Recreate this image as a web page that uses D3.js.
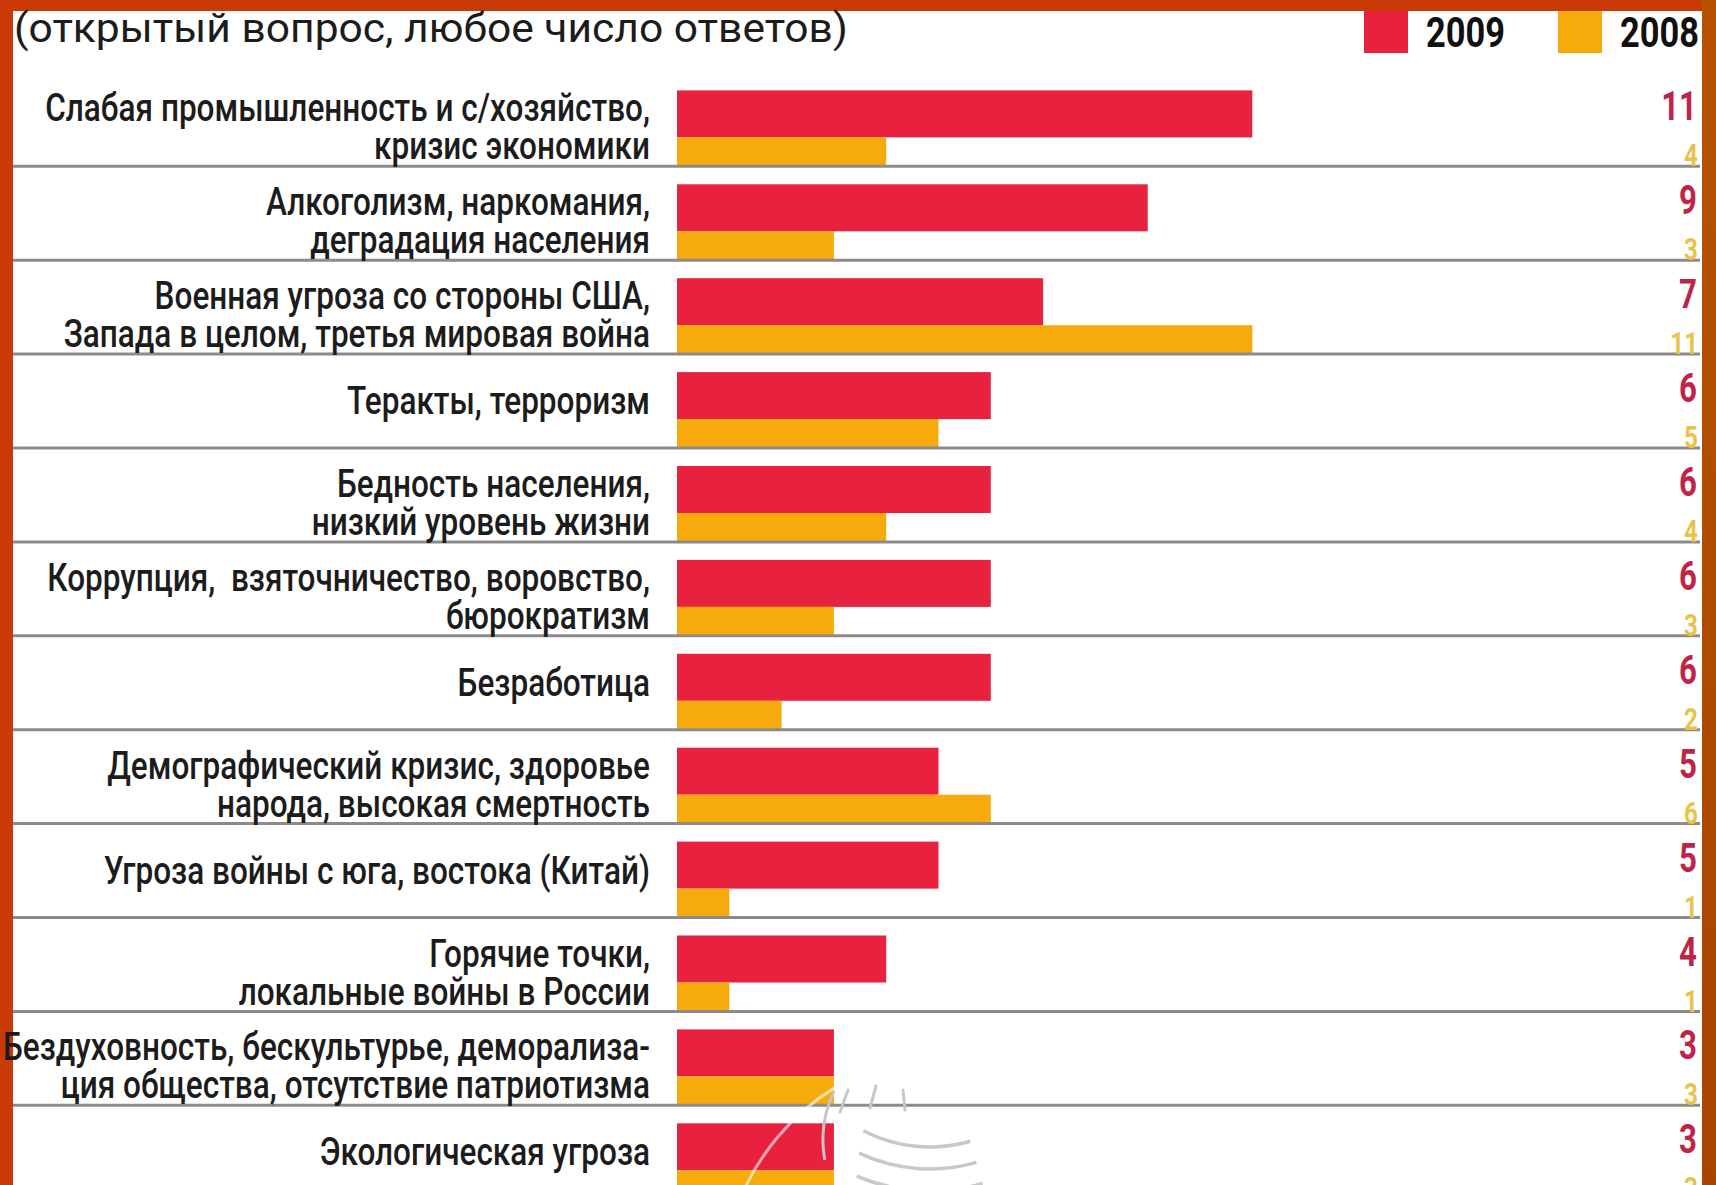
<!DOCTYPE html>
<html><head><meta charset="utf-8">
<script src="https://cdn.jsdelivr.net/npm/d3@7"></script>
<style>
html,body{margin:0;padding:0;background:#c93a06;overflow:hidden;}
svg{display:block;}
</style></head>
<body>
<svg id="chart" width="1716" height="1185"></svg>
<script>
// ---- data ----
const title = "(открытый вопрос, любое число ответов)";
const seriesNames = ["2009", "2008"];
const categories = [
  "Слабая промышленность и с/хозяйство,|кризис экономики",
  "Алкоголизм, наркомания,|деградация населения",
  "Военная угроза со стороны США,|Запада в целом, третья мировая война",
  "Теракты, терроризм",
  "Бедность населения,|низкий уровень жизни",
  "Коррупция,  взяточничество, воровство,|бюрократизм",
  "Безработица",
  "Демографический кризис, здоровье|народа, высокая смертность",
  "Угроза войны с юга, востока (Китай)",
  "Горячие точки,|локальные войны в России",
  "Бездуховность, бескультурье, деморализа-|ция общества, отсутствие патриотизма",
  "Экологическая угроза"
];
const values2009 = [11, 9, 7, 6, 6, 6, 6, 5, 5, 4, 3, 3];
const values2008 = [4, 3, 11, 5, 4, 3, 2, 6, 1, 1, 3, 3];

// ---- layout / style ----
const W = 1716, H = 1185;
const colors = {"2009": "#e8213f", "2008": "#f7aa0c"};
const svg = d3.select("#chart");
const labelFont = "Roboto, 'Noto Sans', sans-serif";
const titleFont = "Roboto, 'Noto Sans', sans-serif";

// width calibration for a condensed look
function measure(str, font, size, weight) {
  const t = svg.append("text").attr("font-family", font).attr("font-size", size)
    .attr("font-weight", weight || "normal").style("white-space","pre").text(str);
  const w = t.node().getComputedTextLength();
  t.remove();
  return w;
}
const labelSize = 38;
const labelWeight = 500;
const labelScale = 605 / measure(categories[0].split("|")[0], labelFont, labelSize, labelWeight);
const titleSize = 40;
const titleScale = 834 / measure(title, titleFont, titleSize);
const numScale = 0.78;

// frame
svg.append("rect").attr("x",0).attr("y",0).attr("width",W).attr("height",H).attr("fill","#c93a06");
const grad = svg.append("defs").append("linearGradient").attr("id","rg").attr("x1",0).attr("y1",0).attr("x2",0).attr("y2",1);
grad.append("stop").attr("offset","0%").attr("stop-color","#b85200");
grad.append("stop").attr("offset","100%").attr("stop-color","#a84600");
svg.append("rect").attr("x",1702).attr("y",0).attr("width",14).attr("height",H).attr("fill","url(#rg)");
svg.append("rect").attr("x",13).attr("y",11).attr("width",1689).attr("height",H-11).attr("fill","#ffffff");

const y = d3.scaleBand().domain(categories).range([72.4, 72.4 + 12*93.9]).paddingInner(0).paddingOuter(0);
const x = d3.scaleLinear().domain([0, 11]).range([677, 677 + 11*52.3]);

const rows = svg.append("g").selectAll("g").data(categories).join("g");

// bars
rows.append("rect")
  .attr("x", x(0)).attr("y", d => y(d) + 18)
  .attr("width", (d,i) => x(values2009[i]) - x(0)).attr("height", 47)
  .attr("fill", colors["2009"]);
rows.append("rect")
  .attr("x", x(0)).attr("y", d => y(d) + 65)
  .attr("width", (d,i) => x(values2008[i]) - x(0)).attr("height", 28.5)
  .attr("fill", colors["2008"]);

// separators
rows.filter((d,i) => i < categories.length - 1).append("line")
  .attr("x1", 13).attr("x2", 1700)
  .attr("y1", d => y(d) + y.step()).attr("y2", d => y(d) + y.step())
  .attr("stroke", "#8e8a8a").attr("stroke-width", 3);

// watermark (faint logo arcs)
const wm = svg.append("g").attr("fill","none").attr("stroke-linecap","round");
wm.append("path").attr("d", d3.arc()({innerRadius:238, outerRadius:238, startAngle:-1.2, endAngle:-0.55}))
  .attr("transform","translate(960,1290)").attr("stroke","rgba(255,255,255,0.6)").attr("stroke-width",3);
wm.append("path").attr("d", d3.arc()({innerRadius:112, outerRadius:112, startAngle:-1.75, endAngle:-1.12}))
  .attr("transform","translate(935,1140)").attr("stroke","#c4c4c4").attr("stroke-width",3);
[145, 167, 189].forEach((r,k) => {
  wm.append("path").attr("d", d3.arc()({innerRadius:r, outerRadius:r, startAngle:2.86, endAngle:3.62 - k*0.04}))
    .attr("transform","translate(930,1002)").attr("stroke","#c8c8c8").attr("stroke-width",3.5);
});
[[848,1090,840,1112],[876,1086,870,1108],[903,1090,905,1110]].forEach(s => {
  wm.append("line").attr("x1",s[0]).attr("y1",s[1]).attr("x2",s[2]).attr("y2",s[3])
    .attr("stroke","#c8c8c8").attr("stroke-width",3);
});

// labels
rows.each(function(d){
  const lines = d.split("|");
  const g = d3.select(this);
  const base = lines.length === 2 ? [49, 87] : [60];
  lines.forEach((ln, k) => {
    g.append("text").attr("text-anchor","end")
      .attr("transform", `translate(650,${y(d) + base[k]}) scale(${labelScale},1)`)
      .attr("font-family", labelFont).attr("font-size", labelSize).attr("font-weight", labelWeight)
      .attr("fill","#1c1c1c").style("white-space","pre").text(ln);
  });
});

// values
rows.append("text").attr("text-anchor","end")
  .attr("transform", d => `translate(1697,${y(d) + 48}) scale(${numScale},1)`)
  .attr("font-family", labelFont).attr("font-weight","bold").attr("font-size", 40)
  .attr("fill", "#bf2448").text((d,i) => values2009[i]);
rows.append("text").attr("text-anchor","end")
  .attr("transform", d => `translate(1698,${y(d) + 94}) scale(${numScale},1)`)
  .attr("font-family", labelFont).attr("font-weight","bold").attr("font-size", 31)
  .attr("fill", "#e9c24a").text((d,i) => values2008[i]);

// title
svg.append("text")
  .attr("transform", `translate(14,42) scale(${titleScale},1)`)
  .attr("font-family", titleFont).attr("font-size", titleSize).attr("fill","#1c1c1c")
  .text(title);

// legend
const lg = svg.append("g");
const legendX = [1364, 1558];
seriesNames.forEach((s,i) => {
  lg.append("rect").attr("x", legendX[i]).attr("y", 11).attr("width", 44).attr("height", 42).attr("fill", colors[s]);
  lg.append("text")
    .attr("transform", `translate(${legendX[i] + 62},47) scale(0.8,1)`)
    .attr("font-family", labelFont).attr("font-weight","bold").attr("font-size", 43).attr("fill","#111")
    .text(s);
});
</script>
</body></html>
